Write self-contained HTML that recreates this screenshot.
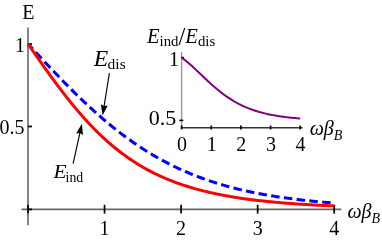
<!DOCTYPE html>
<html><head><meta charset="utf-8"><style>
html,body{margin:0;padding:0;background:#fff;}
#w{width:382px;height:240px;overflow:hidden;will-change:transform;}
svg{display:block;}
text{font-family:"Liberation Serif",serif;font-size:20px;fill:#000;}
.i{font-style:italic;}
</style></head><body><div id="w">
<svg width="382" height="240" viewBox="0 0 382 240">
<!-- axes -->
<line x1="28.0" y1="27.5" x2="28.0" y2="225.3" stroke="#666" stroke-width="1.6"/>
<line x1="21.6" y1="209.4" x2="341.2" y2="209.4" stroke="#666" stroke-width="1.6"/>
<line x1="28.00" y1="204.80" x2="28.00" y2="213.60" stroke="#000" stroke-width="1.7"/>
<line x1="104.55" y1="204.80" x2="104.55" y2="213.60" stroke="#000" stroke-width="1.7"/>
<line x1="181.10" y1="204.80" x2="181.10" y2="213.60" stroke="#000" stroke-width="1.7"/>
<line x1="257.65" y1="204.80" x2="257.65" y2="213.60" stroke="#000" stroke-width="1.7"/>
<line x1="334.20" y1="204.80" x2="334.20" y2="213.60" stroke="#000" stroke-width="1.7"/>
<line x1="28.00" y1="209.40" x2="32.00" y2="209.40" stroke="#000" stroke-width="1.7"/>
<line x1="28.00" y1="126.50" x2="32.00" y2="126.50" stroke="#000" stroke-width="1.7"/>
<line x1="28.00" y1="44.00" x2="32.00" y2="44.00" stroke="#000" stroke-width="1.7"/>

<!-- inset axes -->
<line x1="181.6" y1="52" x2="181.6" y2="128.2" stroke="#999" stroke-width="1.4"/>
<line x1="181.0" y1="127.75" x2="302.6" y2="127.75" stroke="#333" stroke-width="1.4"/>
<line x1="181.60" y1="125.55" x2="181.60" y2="129.45" stroke="#000" stroke-width="1.7"/>
<line x1="211.25" y1="125.55" x2="211.25" y2="129.45" stroke="#000" stroke-width="1.7"/>
<line x1="240.90" y1="125.55" x2="240.90" y2="129.45" stroke="#000" stroke-width="1.7"/>
<line x1="270.55" y1="125.55" x2="270.55" y2="129.45" stroke="#000" stroke-width="1.7"/>
<line x1="300.20" y1="125.55" x2="300.20" y2="129.45" stroke="#000" stroke-width="1.7"/>
<line x1="179.30" y1="120.40" x2="183.30" y2="120.40" stroke="#000" stroke-width="1.6"/>
<line x1="181.30" y1="57.60" x2="184.00" y2="57.60" stroke="#000" stroke-width="1.6"/>

<!-- curves -->
<path d="M28.00,44.00 L29.91,46.06 L31.83,48.12 L33.74,50.18 L35.66,52.24 L37.57,54.30 L39.48,56.35 L41.40,58.40 L43.31,60.45 L45.22,62.48 L47.14,64.52 L49.05,66.55 L50.97,68.57 L52.88,70.58 L54.79,72.58 L56.71,74.58 L58.62,76.57 L60.53,78.54 L62.45,80.51 L64.36,82.47 L66.28,84.41 L68.19,86.34 L70.10,88.26 L72.02,90.17 L73.93,92.07 L75.84,93.95 L77.76,95.81 L79.67,97.67 L81.58,99.50 L83.50,101.32 L85.41,103.13 L87.33,104.92 L89.24,106.69 L91.15,108.45 L93.07,110.19 L94.98,111.91 L96.89,113.61 L98.81,115.30 L100.72,116.97 L102.64,118.62 L104.55,120.25 L106.46,121.86 L108.38,123.46 L110.29,125.03 L112.20,126.59 L114.12,128.12 L116.03,129.64 L117.95,131.14 L119.86,132.61 L121.77,134.07 L123.69,135.51 L125.60,136.93 L127.52,138.33 L129.43,139.70 L131.34,141.06 L133.26,142.40 L135.17,143.72 L137.08,145.02 L139.00,146.30 L140.91,147.56 L142.82,148.80 L144.74,150.02 L146.65,151.22 L148.57,152.40 L150.48,153.57 L152.39,154.71 L154.31,155.83 L156.22,156.94 L158.13,158.03 L160.05,159.09 L161.96,160.14 L163.88,161.18 L165.79,162.19 L167.70,163.18 L169.62,164.16 L171.53,165.12 L173.44,166.06 L175.36,166.99 L177.27,167.90 L179.19,168.79 L181.10,169.66 L183.01,170.52 L184.93,171.36 L186.84,172.19 L188.75,173.00 L190.67,173.79 L192.58,174.57 L194.50,175.33 L196.41,176.08 L198.32,176.82 L200.24,177.53 L202.15,178.24 L204.06,178.93 L205.98,179.61 L207.89,180.27 L209.81,180.92 L211.72,181.55 L213.63,182.18 L215.55,182.79 L217.46,183.38 L219.38,183.97 L221.29,184.54 L223.20,185.10 L225.12,185.65 L227.03,186.18 L228.94,186.71 L230.86,187.22 L232.77,187.73 L234.69,188.22 L236.60,188.70 L238.51,189.17 L240.43,189.63 L242.34,190.08 L244.25,190.52 L246.17,190.96 L248.08,191.38 L249.99,191.79 L251.91,192.19 L253.82,192.59 L255.74,192.97 L257.65,193.35 L259.56,193.72 L261.48,194.08 L263.39,194.43 L265.31,194.77 L267.22,195.11 L269.13,195.44 L271.05,195.76 L272.96,196.08 L274.87,196.38 L276.79,196.68 L278.70,196.98 L280.62,197.26 L282.53,197.54 L284.44,197.81 L286.36,198.08 L288.27,198.34 L290.18,198.60 L292.10,198.85 L294.01,199.09 L295.93,199.33 L297.84,199.56 L299.75,199.79 L301.67,200.01 L303.58,200.22 L305.49,200.43 L307.41,200.64 L309.32,200.84 L311.24,201.04 L313.15,201.23 L315.06,201.42 L316.98,201.60 L318.89,201.78 L320.80,201.95 L322.72,202.12 L324.63,202.29 L326.54,202.45 L328.46,202.61 L330.37,202.77 L332.29,202.92 L334.20,203.06" fill="none" stroke="#0000ff" stroke-width="3" stroke-dasharray="8.5,4.33" stroke-dashoffset="1.5"/>
<path d="M28.00,44.00 L29.91,46.75 L31.83,49.50 L33.74,52.24 L35.66,54.98 L37.57,57.71 L39.48,60.44 L41.40,63.15 L43.31,65.85 L45.22,68.54 L47.14,71.22 L49.05,73.87 L50.97,76.51 L52.88,79.13 L54.79,81.73 L56.71,84.31 L58.62,86.87 L60.53,89.40 L62.45,91.90 L64.36,94.38 L66.28,96.83 L68.19,99.25 L70.10,101.64 L72.02,104.00 L73.93,106.33 L75.84,108.62 L77.76,110.89 L79.67,113.12 L81.58,115.31 L83.50,117.48 L85.41,119.60 L87.33,121.69 L89.24,123.75 L91.15,125.77 L93.07,127.76 L94.98,129.71 L96.89,131.62 L98.81,133.50 L100.72,135.34 L102.64,137.14 L104.55,138.91 L106.46,140.64 L108.38,142.34 L110.29,144.00 L112.20,145.63 L114.12,147.22 L116.03,148.78 L117.95,150.30 L119.86,151.79 L121.77,153.24 L123.69,154.67 L125.60,156.06 L127.52,157.41 L129.43,158.74 L131.34,160.03 L133.26,161.30 L135.17,162.53 L137.08,163.73 L139.00,164.91 L140.91,166.05 L142.82,167.17 L144.74,168.26 L146.65,169.32 L148.57,170.36 L150.48,171.37 L152.39,172.35 L154.31,173.31 L156.22,174.25 L158.13,175.16 L160.05,176.04 L161.96,176.91 L163.88,177.75 L165.79,178.57 L167.70,179.37 L169.62,180.15 L171.53,180.90 L173.44,181.64 L175.36,182.36 L177.27,183.06 L179.19,183.74 L181.10,184.40 L183.01,185.05 L184.93,185.68 L186.84,186.29 L188.75,186.89 L190.67,187.47 L192.58,188.03 L194.50,188.58 L196.41,189.11 L198.32,189.63 L200.24,190.14 L202.15,190.63 L204.06,191.11 L205.98,191.58 L207.89,192.03 L209.81,192.48 L211.72,192.91 L213.63,193.33 L215.55,193.74 L217.46,194.13 L219.38,194.52 L221.29,194.89 L223.20,195.26 L225.12,195.62 L227.03,195.96 L228.94,196.30 L230.86,196.63 L232.77,196.95 L234.69,197.26 L236.60,197.57 L238.51,197.86 L240.43,198.15 L242.34,198.43 L244.25,198.70 L246.17,198.97 L248.08,199.22 L249.99,199.48 L251.91,199.72 L253.82,199.96 L255.74,200.19 L257.65,200.42 L259.56,200.64 L261.48,200.85 L263.39,201.06 L265.31,201.26 L267.22,201.46 L269.13,201.65 L271.05,201.84 L272.96,202.02 L274.87,202.20 L276.79,202.37 L278.70,202.54 L280.62,202.71 L282.53,202.87 L284.44,203.02 L286.36,203.17 L288.27,203.32 L290.18,203.47 L292.10,203.61 L294.01,203.74 L295.93,203.88 L297.84,204.01 L299.75,204.13 L301.67,204.26 L303.58,204.38 L305.49,204.49 L307.41,204.61 L309.32,204.72 L311.24,204.82 L313.15,204.93 L315.06,205.03 L316.98,205.13 L318.89,205.23 L320.80,205.32 L322.72,205.42 L324.63,205.51 L326.54,205.60 L328.46,205.68 L330.37,205.76 L332.29,205.85 L334.20,205.92" fill="none" stroke="#ff0000" stroke-width="3"/>
<path d="M181.60,57.60 L182.79,58.46 L183.97,59.35 L185.16,60.27 L186.34,61.22 L187.53,62.20 L188.72,63.21 L189.90,64.23 L191.09,65.28 L192.27,66.35 L193.46,67.43 L194.65,68.53 L195.83,69.64 L197.02,70.76 L198.20,71.88 L199.39,73.01 L200.58,74.15 L201.76,75.28 L202.95,76.42 L204.13,77.55 L205.32,78.68 L206.51,79.80 L207.69,80.91 L208.88,82.01 L210.06,83.10 L211.25,84.18 L212.44,85.24 L213.62,86.29 L214.81,87.32 L215.99,88.33 L217.18,89.33 L218.37,90.31 L219.55,91.27 L220.74,92.20 L221.92,93.12 L223.11,94.02 L224.30,94.90 L225.48,95.75 L226.67,96.59 L227.85,97.40 L229.04,98.19 L230.23,98.96 L231.41,99.71 L232.60,100.44 L233.78,101.15 L234.97,101.83 L236.16,102.50 L237.34,103.15 L238.53,103.77 L239.71,104.38 L240.90,104.97 L242.09,105.54 L243.27,106.09 L244.46,106.62 L245.64,107.14 L246.83,107.64 L248.02,108.12 L249.20,108.59 L250.39,109.04 L251.57,109.47 L252.76,109.89 L253.95,110.30 L255.13,110.69 L256.32,111.07 L257.50,111.43 L258.69,111.78 L259.88,112.12 L261.06,112.45 L262.25,112.76 L263.43,113.07 L264.62,113.36 L265.81,113.64 L266.99,113.91 L268.18,114.18 L269.36,114.43 L270.55,114.67 L271.74,114.90 L272.92,115.13 L274.11,115.35 L275.29,115.56 L276.48,115.76 L277.67,115.95 L278.85,116.14 L280.04,116.32 L281.22,116.49 L282.41,116.65 L283.60,116.81 L284.78,116.97 L285.97,117.12 L287.15,117.26 L288.34,117.39 L289.53,117.53 L290.71,117.65 L291.90,117.77 L293.08,117.89 L294.27,118.00 L295.46,118.11 L296.64,118.22 L297.83,118.32 L299.01,118.41 L300.20,118.51" fill="none" stroke="#800080" stroke-width="2"/>
<!-- labels -->
<text x="28.4" y="19" text-anchor="middle">E</text>
<text x="25" y="51.5" text-anchor="end">1</text>
<text x="24.5" y="133.5" text-anchor="end">0.5</text>
<text x="104.55" y="234.7" text-anchor="middle">1</text>
<text x="181.10" y="234.7" text-anchor="middle">2</text>
<text x="257.65" y="234.7" text-anchor="middle">3</text>
<text x="334.20" y="234.7" text-anchor="middle">4</text>

<text x="182.00" y="151.3" text-anchor="middle">0</text>
<text x="211.65" y="151.3" text-anchor="middle">1</text>
<text x="241.30" y="151.3" text-anchor="middle">2</text>
<text x="270.95" y="151.3" text-anchor="middle">3</text>
<text x="300.60" y="151.3" text-anchor="middle">4</text>

<text x="178.9" y="65.7" text-anchor="end">1</text>
<text x="176.3" y="125.2" text-anchor="end" style="font-size:22px">0.5</text>
<text x="347.5" y="217.6"><tspan class="i">ωβ</tspan><tspan class="i" font-size="14" dy="5">B</tspan></text>
<text x="309.7" y="135"><tspan class="i">ωβ</tspan><tspan class="i" font-size="14" dy="5">B</tspan></text>
<text class="i" style="font-size:22.3px" transform="translate(93.8,66.4) scale(1.06,1)">E</text>
<text x="107.6" y="68.8" style="font-size:15.5px">dis</text>
<text class="i" style="font-size:19px" transform="translate(53.6,178.0) scale(1.13,1)">E</text>
<text x="65.6" y="181.6" style="font-size:13.7px">ind</text>
<text x="147" y="43"><tspan class="i" font-size="20.6">E</tspan><tspan font-size="14.8" dy="2.5">ind</tspan><tspan dy="-0.5" font-size="24.5">/</tspan><tspan class="i" font-size="20.6" dy="-2">E</tspan><tspan font-size="14.8" dy="2.5">dis</tspan></text>
<!-- arrows -->
<line x1="109.40" y1="73.00" x2="104.10" y2="106.12" stroke="#000" stroke-width="1.15"/>
<polygon points="102.60,115.50 100.85,104.28 104.10,106.12 107.76,105.39" fill="#000"/>
<line x1="73.10" y1="163.60" x2="79.85" y2="133.08" stroke="#000" stroke-width="1.15"/>
<polygon points="81.90,123.80 82.99,135.10 79.85,133.08 76.15,133.59" fill="#000"/>

</svg></div>
</body></html>
